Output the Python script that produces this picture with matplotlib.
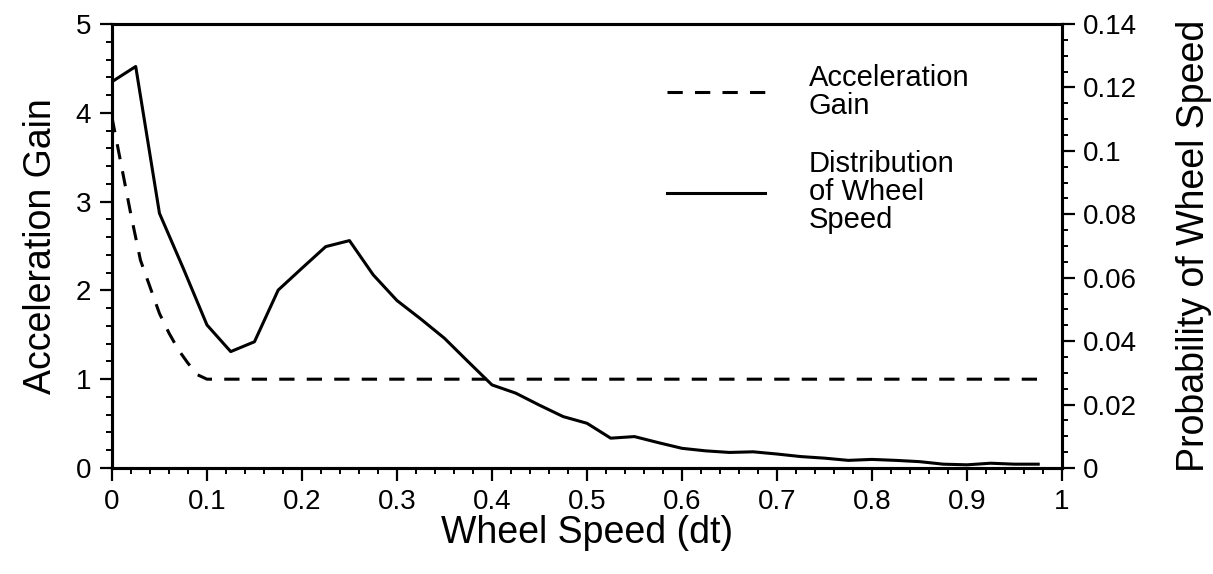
import numpy as np
import matplotlib
matplotlib.use('Agg')
import matplotlib.pyplot as plt
from matplotlib.ticker import MultipleLocator, FuncFormatter

plt.rcParams['font.family'] = ['Liberation Sans', 'DejaVu Sans']

# Acceleration gain (left axis)
gain_speed = [0.0, 0.01, 0.02, 0.03, 0.04, 0.05, 0.06, 0.07, 0.08, 0.09, 0.1, 0.975]
gain_value = [3.95, 3.4, 2.85, 2.34, 2.04, 1.74, 1.52, 1.33, 1.18, 1.05, 1.0, 1.0]

# Distribution of wheel speed (right axis)
dist_speed = [0.0, 0.025, 0.05, 0.075, 0.1, 0.125, 0.15, 0.175, 0.2, 0.225,
              0.25, 0.275, 0.3, 0.325, 0.35, 0.375, 0.4, 0.425, 0.45, 0.475,
              0.5, 0.525, 0.55, 0.575, 0.6, 0.625, 0.65, 0.675, 0.7, 0.725,
              0.75, 0.775, 0.8, 0.825, 0.85, 0.875, 0.9, 0.925, 0.95, 0.975]
dist_prob = [0.1218, 0.1266, 0.0803, 0.063, 0.0451, 0.0367, 0.0398, 0.0561, 0.063, 0.0698,
             0.0717, 0.0609, 0.0528, 0.047, 0.0409, 0.0335, 0.0262, 0.0236, 0.0198, 0.0162,
             0.0141, 0.0094, 0.0099, 0.008, 0.0062, 0.0054, 0.0049, 0.0051, 0.0044, 0.0036,
             0.0031, 0.0024, 0.0027, 0.0024, 0.002, 0.0012, 0.001, 0.0015, 0.0012, 0.0012]

fig = plt.figure(figsize=(12.13, 5.74), dpi=100)
ax = fig.add_axes([0.0923, 0.1847, 0.7832, 0.7735])
ax2 = ax.twinx()

lw = 2.2
dash_line, = ax.plot(gain_speed, gain_value, color='black', linewidth=lw,
                     dashes=(5, 4), label='Acceleration\nGain')
solid_line, = ax2.plot(dist_speed, dist_prob, color='black', linewidth=lw,
                       label='Distribution\nof Wheel\nSpeed')

ax.set_xlim(0, 1)
ax.set_ylim(0, 5)
ax2.set_ylim(0, 0.14)

ax.xaxis.set_major_locator(MultipleLocator(0.1))
ax.xaxis.set_minor_locator(MultipleLocator(0.02))
ax.yaxis.set_major_locator(MultipleLocator(1))
ax.yaxis.set_minor_locator(MultipleLocator(0.2))
ax2.yaxis.set_major_locator(MultipleLocator(0.02))
ax2.yaxis.set_minor_locator(MultipleLocator(0.005))

fmt = FuncFormatter(lambda v, p: '%g' % round(v, 4))
ax.xaxis.set_major_formatter(fmt)
ax2.yaxis.set_major_formatter(fmt)

for a in (ax, ax2):
    for s in a.spines.values():
        s.set_linewidth(2.2)
    a.tick_params(which='major', direction='out', length=9, width=1.6, labelsize=20, pad=6)
    a.tick_params(which='minor', direction='out', length=4.5, width=1.4)

ax.set_xlabel('Wheel Speed (dt)', fontsize=27, labelpad=0)
ax.set_ylabel('Acceleration Gain', fontsize=27, labelpad=12)
ax2.set_ylabel('Probability of Wheel Speed', fontsize=27, labelpad=28)

leg = ax2.legend(handles=[dash_line, solid_line], loc='upper left',
                 bbox_to_anchor=(0.557, 0.97), frameon=False, fontsize=21,
                 handlelength=3.35, handletextpad=1.5, labelspacing=1.05)
for t in leg.get_texts():
    t.set_linespacing(1.0)

fig.savefig('out.png', dpi=100)
